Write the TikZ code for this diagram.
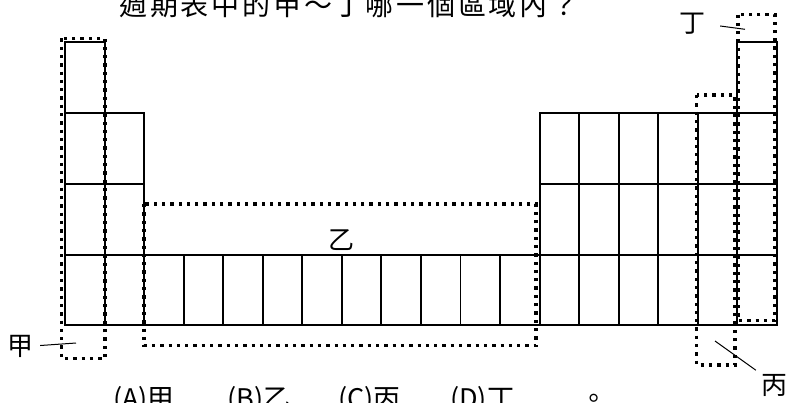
\documentclass[tikz,border=0pt]{standalone}
\usepackage{fontspec}
\setmainfont{Noto Sans CJK TC}
\begin{document}
\begin{tikzpicture}[x=1pt,y=-1pt,
  cell/.style={draw=black,line width=1.9pt},
  region/.style={draw=black,line width=3.3pt,dash pattern=on 3.3pt off 5pt},
  lbl/.style={inner sep=0pt,font=\fontsize{26}{26}\selectfont},
  pointer/.style={draw=black,line width=1pt}]
\useasboundingbox (0,0) rectangle (787,402);
\def\cw{39.55}
% period 1
\foreach \c in {0,17} \draw[cell] ({65+\c*\cw},42) rectangle ({65+(\c+1)*\cw},113);
% periods 2 and 3
\foreach \ya/\yb in {113/184,184/255}
  \foreach \c in {0,1,12,13,14,15,16,17}
    \draw[cell] ({65+\c*\cw},\ya) rectangle ({65+(\c+1)*\cw},\yb);
% period 4
\foreach \c in {0,...,17} \draw[cell] ({65+\c*\cw},255) rectangle ({65+(\c+1)*\cw},325);
% regions
\draw[region] (61.7,38.3) rectangle (105,358.7);
\draw[region] (144,204) rectangle (536,345.5);
\draw[region] (696.7,95) rectangle (735,365);
\draw[region] (738,14.5) rectangle (775,320.7);
% title
\node[anchor=base,inner sep=0pt,font=\fontsize{28}{28}\selectfont\addfontfeature{LetterSpace=10}] (title) at (349,15) {週期表中的甲～丁哪一個區域內？};
% labels
\node[lbl] (jia) at (20,346) {甲};
\coordinate (jiaend) at (76,343);
\draw[pointer,shorten <=7pt] (jia.east) -- (jiaend);
\node[lbl] (yi) at (341,240) {乙};
\node[lbl] (bing) at (774,385) {丙};
\coordinate (bingend) at (715,341);
\draw[pointer,shorten <=6pt] (bing.north west) -- (bingend);
\node[lbl] (ding) at (692,24) {丁};
\coordinate (dingend) at (745,29.3);
\draw[pointer,shorten <=15pt] (ding.east) -- (dingend);
% options
\node[anchor=base west,inner sep=0pt,font=\fontsize{27}{27}\selectfont] (options) at (113,408)
  {\makebox[114pt][l]{(A)甲}\makebox[111pt][l]{(B)乙}\makebox[112pt][l]{(C)丙}\makebox[130pt][l]{(D)丁}。};
\end{tikzpicture}
\end{document}
